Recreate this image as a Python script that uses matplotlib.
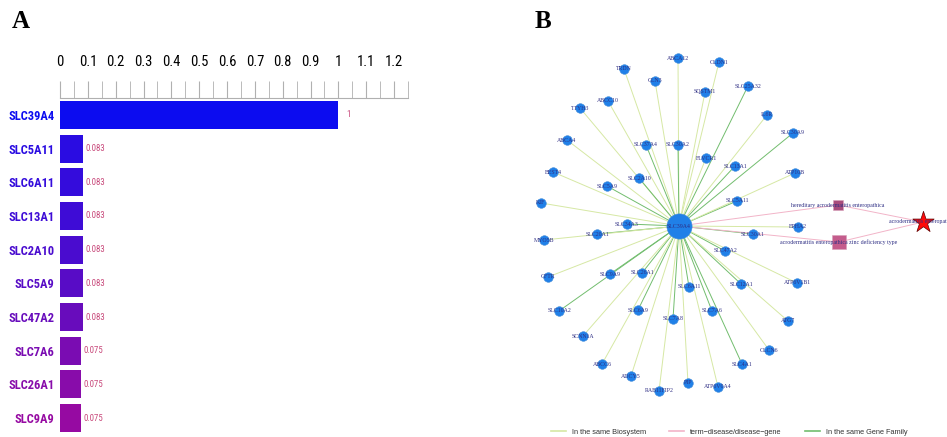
import matplotlib.pyplot as plt
from matplotlib.lines import Line2D
from matplotlib.ticker import MultipleLocator

# panel A data
genes = ['SLC39A4', 'SLC5A11', 'SLC6A11', 'SLC13A1', 'SLC2A10',
         'SLC5A9', 'SLC47A2', 'SLC7A6', 'SLC26A1', 'SLC9A9']
scores = [1, 0.083, 0.083, 0.083, 0.083, 0.083, 0.083, 0.075, 0.075, 0.075]
score_text = ['1', '0.083', '0.083', '0.083', '0.083', '0.083', '0.083',
              '0.075', '0.075', '0.075']
bar_colors = ['#0c0cf0', '#2a0ce2', '#340cdc', '#3e0cd6', '#4a0ccf',
              '#580cc6', '#680cbc', '#7a0cb2', '#880caa', '#960aa2']

# panel B data (layout, in pixels)
hub = 'SLC39A4'
hub_x, hub_y = 679, 226
nodes = ['ABCA12', 'CLDN1', 'TRDN', 'CLN3', 'SQSTM1', 'ABCC10', 'TTYH3',
         'ABCA4', 'SLC37A4', 'SLC30A2', 'FLVCR1', 'SLC13A1', 'SLC2A10',
         'BEST4', 'SLC5A9', 'KIF', 'SLC5A11', 'SLC25A32', 'IL6R', 'SLC30A9',
         'ATP10B', 'EPHA2', 'SLC30A1', 'SLC47A2', 'ATP6V1B1', 'SLC12A1',
         'ATG7', 'CLCN6', 'SLC4A1', 'ATP6V0A4', 'SLC34A3', 'SLC20A1',
         'MYO5B', 'CFTR', 'SLC9A9', 'SLC26A1', 'SLC6A11', 'SLC10A2',
         'SLC6A9', 'SLC7A8', 'SLC7A6', 'SCNN1A', 'ABCC6', 'ADCY5', 'PIP',
         'RAB11FIP2']
node_x = [678, 719, 624, 655, 705, 608, 580, 567, 646, 678, 706, 735, 639,
          553, 607, 541, 737, 748, 767, 793, 795, 798, 753, 725, 797, 741,
          788, 769, 742, 718, 627, 597, 544, 548, 610, 642, 689, 559, 638,
          673, 712, 583, 602, 631, 688, 659]
node_y = [58, 62, 69, 81, 92, 101, 108, 140, 145, 145, 158, 166, 178, 172,
          186, 203, 201, 86, 115, 133, 173, 227, 234, 251, 283, 284, 321, 350,
          364, 387, 224, 234, 240, 277, 274, 273, 287, 311, 310, 319, 311,
          336, 364, 376, 383, 391]
terms = ['hereditary acrodermatitis enteropathica',
         'acrodermatitis enteropathica zinc deficiency type']
term_x = [838, 839]
term_y = [205, 242]
disease = 'acrodermatitis enteropathica'
disease_x, disease_y = 923, 222

narrow = ['Roboto Condensed', 'Roboto', 'DejaVu Sans']
serif = ['Liberation Serif', 'DejaVu Serif']
sans = ['Liberation Sans', 'DejaVu Sans']

fig = plt.figure(figsize=(9.47, 4.37), dpi=100)

# ---- A: bar chart
ax = fig.add_axes([60 / 947, 2 / 437, 348 / 947, 337 / 437])
ypos = list(range(len(genes)))
ax.barh(ypos, scores, height=0.83, color=bar_colors)
for i in ypos:
    off = 0.03 if scores[i] >= 1 else 0.01
    ax.text(scores[i] + off, i, score_text[i], ha='left', va='center',
            fontsize=6.3, color='#c8487a', family=narrow)
ax.set_ylim(9.5, -0.5)
ax.set_xlim(0, 1.25)
ax.set_yticks(ypos)
ax.set_yticklabels(genes, fontsize=9, fontweight='bold', family=narrow)
for lab, c in zip(ax.get_yticklabels(), bar_colors):
    lab.set_color(c)
ax.tick_params(axis='y', length=0, pad=4)
ax.xaxis.set_ticks_position('top')
ax.xaxis.set_minor_locator(MultipleLocator(0.05))
ax.set_xticks([0, 0.1, 0.2, 0.3, 0.4, 0.5, 0.6, 0.7, 0.8, 0.9, 1, 1.1, 1.2])
ax.set_xticklabels(['0', '0.1', '0.2', '0.3', '0.4', '0.5', '0.6', '0.7',
                    '0.8', '0.9', '1', '1.1', '1.2'], fontsize=10.5, family=narrow)
ax.tick_params(axis='x', which='both', direction='out', length=12,
               color='#b0b0b0', pad=9)
for s in ['left', 'right', 'bottom']:
    ax.spines[s].set_visible(False)
ax.spines['top'].set_color('#b0b0b0')

fig.text(21 / 947, 1 - 22 / 437, 'A', fontsize=18, fontweight='bold',
         family=serif, ha='center', va='center')
fig.text(543 / 947, 1 - 22 / 437, 'B', fontsize=18, fontweight='bold',
         family=serif, ha='center', va='center')

# ---- B: network
bx = fig.add_axes([520 / 947, 0, 427 / 947, 1])
bx.set_xlim(520, 947)
bx.set_ylim(437, 0)
bx.axis('off')

bio_c = '#d6e8a4'
fam_c = '#72bd6e'
dis_c = '#f2b4c8'
for n, x, y in zip(nodes, node_x, node_y):
    c = fam_c if n.startswith('SLC') else bio_c
    bx.plot([hub_x, x], [hub_y, y], color=c, lw=0.7, zorder=1)
for x, y in zip(term_x, term_y):
    bx.plot([hub_x, x], [hub_y, y], color=dis_c, lw=0.7, zorder=1)
    bx.plot([x, disease_x], [y, disease_y], color=dis_c, lw=0.7, zorder=1)

bx.scatter(node_x, node_y, s=48, color='#2080e8', edgecolor='#4a90d8',
           linewidth=0.4, zorder=3)
bx.scatter([hub_x], [hub_y], s=330, color='#2080e8', edgecolor='#4a90d8',
           linewidth=0.4, zorder=3)
bx.scatter(term_x, term_y, s=[45, 110], marker='s', color=['#a84c7c', '#c45c8c'],
           edgecolor='#d8a0b8', linewidth=0.4, zorder=3)
bx.scatter([disease_x], [disease_y], s=260, marker='*', color='#ff0a0a',
           edgecolor='#600000', linewidth=0.5, zorder=3)

lab_c = '#2e2e84'
for n, x, y in zip(nodes, node_x, node_y):
    bx.text(x, y, n, fontsize=4.2, color=lab_c, family=serif,
            ha='center', va='center', zorder=4)
bx.text(hub_x, hub_y, hub, fontsize=4.2, color=lab_c, family=serif,
        ha='center', va='center', zorder=4)
for t, x, y in zip(terms, term_x, term_y):
    bx.text(x, y, t, fontsize=4.2, color=lab_c, family=serif,
            ha='center', va='center', zorder=4)
bx.text(disease_x, disease_y, disease, fontsize=4.2, color=lab_c, family=serif,
        ha='center', va='center', zorder=4)

handles = [Line2D([], [], color=bio_c, lw=1.2),
           Line2D([], [], color=dis_c, lw=1.2),
           Line2D([], [], color=fam_c, lw=1.2)]
leg = bx.legend(handles, ['In the same Biosystem', 'term\u2212disease/disease\u2212gene',
                          'In the same Gene Family'],
                ncol=3, loc='center', bbox_to_anchor=(0.49, 0.011), frameon=False,
                prop={'family': sans, 'size': 5.3}, handlelength=2.0,
                handletextpad=0.8, columnspacing=3.2, labelcolor='#333333')

fig.savefig('out.png', dpi=100)
